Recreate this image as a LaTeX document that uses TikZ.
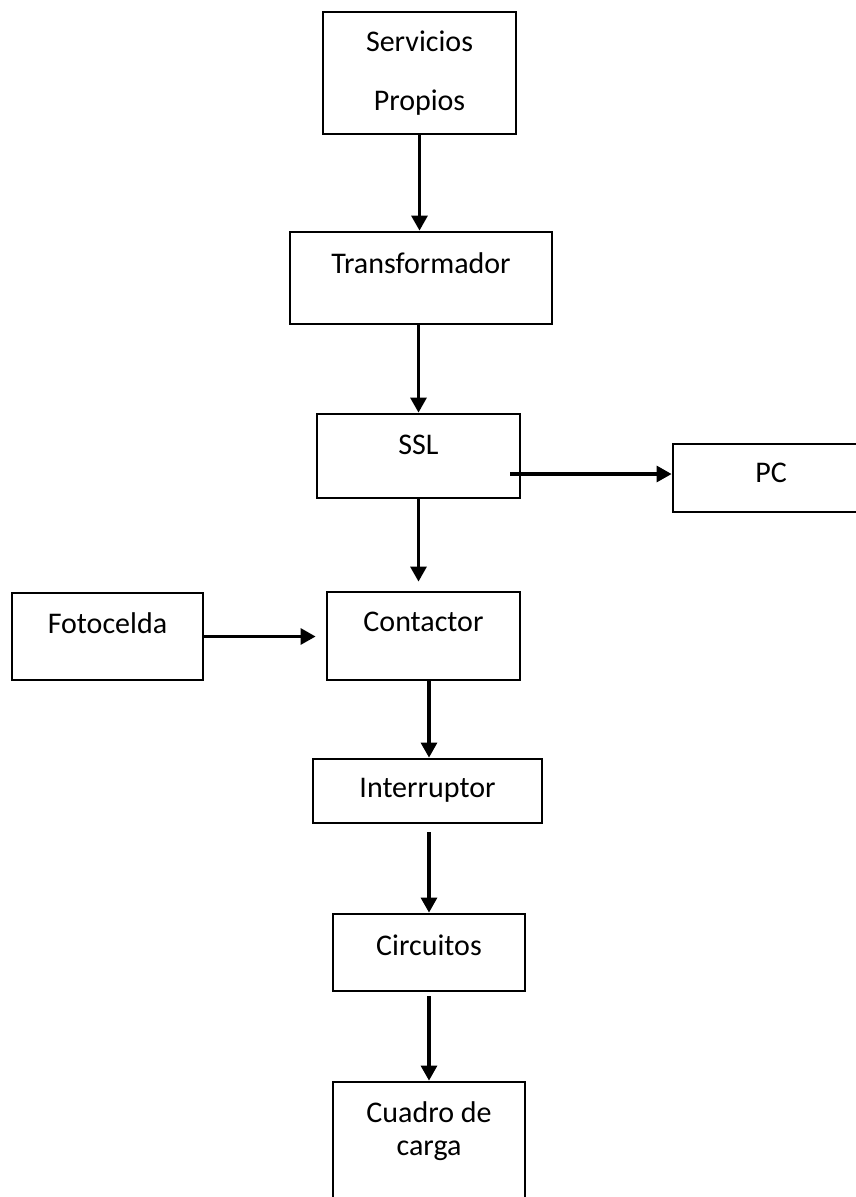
\documentclass[tikz,border=0pt]{standalone}
\usepackage{fontspec}
\setmainfont{Carlito}
\usetikzlibrary{arrows.meta}
\begin{document}
\begin{tikzpicture}[x=1pt,y=-1pt,
  every node/.style={font=\fontsize{30}{35}\selectfont},
  box/.style={draw, line width=2.8pt, inner sep=0pt},
  arr/.style={line width=3.1pt, -{Triangle[width=16pt,length=15pt]}}]
\fill[white] (0,0) rectangle (856,1197);
\useasboundingbox (0,0) rectangle (856,1197);
\node[box, minimum width=193pt, minimum height=122pt,
  label={[align=center, font=\fontsize{30}{59}\selectfont]center:Servicios\\Propios}] (serv) at (419.5,73) {};
\node[box, minimum width=262pt, minimum height=92pt,
  label={[yshift=15pt]center:Transformador}] (trans) at (421,278) {};
\node[box, minimum width=203pt, minimum height=84pt,
  label={[yshift=11pt]center:SSL}] (ssl) at (418.5,456) {};
\node[box, minimum width=196pt, minimum height=68pt,
  label={[yshift=5pt]center:PC}] (pc) at (771,478) {};
\node[box, minimum width=191pt, minimum height=87pt,
  label={[yshift=13.5pt]center:Fotocelda}] (foto) at (107.5,636.5) {};
\node[box, minimum width=193pt, minimum height=88pt,
  label={[yshift=14pt]center:Contactor}] (cont) at (423.5,636) {};
\node[box, minimum width=229pt, minimum height=64pt,
  label={[yshift=1pt]center:Interruptor}] (intr) at (427.5,791) {};
\node[box, minimum width=192pt, minimum height=77pt,
  label={[yshift=7.5pt]center:Circuitos}] (circ) at (429,952.5) {};
\node[box, minimum width=192pt, minimum height=148pt,
  label={[yshift=24.5pt, align=center, font=\fontsize{30}{33}\selectfont]center:Cuadro de\\carga}] (cuad) at (429,1156) {};
\coordinate (sslout) at (510,474);
\draw[arr] (serv.south) -- (serv.south |- trans.north);
\draw[arr] (ssl.north |- trans.south) -- (ssl.north);
\draw[arr] (sslout) -- (sslout -| pc.west);
\draw[arr, shorten >=9pt] (ssl.south) -- (ssl.south |- cont.north);
\draw[arr, shorten >=10pt] (foto.east) -- (foto.east -| cont.west);
\draw[arr] (circ.north |- cont.south) -- (circ.north |- intr.north);
\draw[arr, shorten <=8pt] (circ.north |- intr.south) -- (circ.north);
\draw[arr, shorten <=4pt] (circ.south) -- (cuad.north);
\end{tikzpicture}
\end{document}
